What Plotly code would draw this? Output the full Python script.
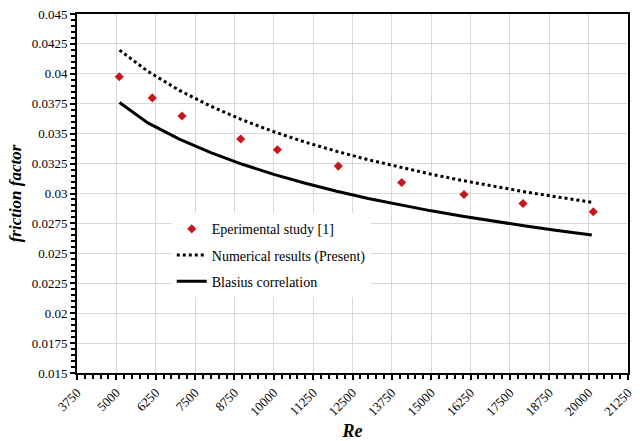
import plotly.graph_objects as go

# experimental points [1]
re_exp = [5093, 6142, 7085, 8949, 10113, 12050, 14062, 16041, 17915, 20148]
f_exp = [0.03975, 0.03799, 0.03648, 0.03455, 0.03366, 0.03229, 0.03092, 0.02992, 0.02916, 0.02847]

# numerical results (present) and Blasius
re_line = [5100, 6000, 7000, 8000, 9000, 10000, 11000, 12000, 13000, 14000,
           15000, 16000, 17000, 18000, 19000, 20100]
f_num = [0.04198, 0.04021, 0.03862, 0.03729, 0.03615, 0.03516, 0.03429, 0.03352,
         0.03282, 0.03219, 0.03161, 0.03108, 0.03059, 0.03013, 0.02971, 0.02927]
f_blasius = [0.03760, 0.03590, 0.03455, 0.03341, 0.03244, 0.03160, 0.03086, 0.03019,
             0.02959, 0.02905, 0.02855, 0.02810, 0.02767, 0.02728, 0.02691, 0.02654]

x_ticks = [3750, 5000, 6250, 7500, 8750, 10000, 11250, 12500, 13750, 15000,
           16250, 17500, 18750, 20000, 21250]
y_ticks = [0.015, 0.0175, 0.02, 0.0225, 0.025, 0.0275, 0.03, 0.0325, 0.035,
           0.0375, 0.04, 0.0425, 0.045]

font = "Times New Roman, Liberation Serif, serif"

fig = go.Figure()
fig.add_trace(go.Scatter(x=re_exp, y=f_exp, mode='markers', name='Eperimental study [1]',
                         legendgroup='a',
                         marker=dict(symbol='diamond', size=7, color='#c8161d')))
fig.add_trace(go.Scatter(x=re_line, y=f_num, mode='lines', name='Numerical results (Present)',
                         legendgroup='b',
                         line=dict(color='black', width=3, dash='3px,3px')))
fig.add_trace(go.Scatter(x=re_line, y=f_blasius, mode='lines', name='Blasius correlation',
                         legendgroup='c',
                         line=dict(color='black', width=3)))

axis_common = dict(showline=True, linecolor='black', linewidth=2, mirror=True,
                   showgrid=True, gridcolor='#d9d9d9', gridwidth=1, zeroline=False,
                   ticks='outside', ticklen=5, tickcolor='black', tickwidth=1.5,
                   tickfont=dict(family=font, size=13, color='black'))

fig.update_xaxes(range=[3750, 21250], tickvals=x_ticks, ticktext=[str(v) for v in x_ticks],
                 tickangle=-45,
                 minor=dict(ticks='outside', dtick=250, tick0=3750, ticklen=4,
                            tickcolor='black', tickwidth=1.5, showgrid=False),
                 title=dict(text='<b><i>Re</i></b>', font=dict(family=font, size=18, color='black'),
                            standoff=8),
                 **axis_common)
fig.update_yaxes(range=[0.015, 0.045], tickvals=y_ticks, ticktext=[f'{v:g}' for v in y_ticks],
                 minor=dict(ticks='outside', dtick=0.0005, tick0=0.015, ticklen=4,
                            tickcolor='black', tickwidth=1.5, showgrid=False),
                 title=dict(text='<b><i>friction factor</i></b>', font=dict(family=font, size=17, color='black'),
                            standoff=6),
                 **axis_common)

fig.update_layout(width=640, height=441,
                  margin=dict(l=77, r=12, t=14, b=68, autoexpand=False),
                  plot_bgcolor='white', paper_bgcolor='white',
                  font=dict(family=font, color='black'),
                  legend=dict(x=0.172, y=0.445, xanchor='left', yanchor='top',
                              bgcolor='white', borderwidth=0, tracegroupgap=5,
                              font=dict(family=font, size=14, color='black')))

fig.write_html("out.html", config={'displayModeBar': False},
               post_script="document.body.style.margin='0';")
